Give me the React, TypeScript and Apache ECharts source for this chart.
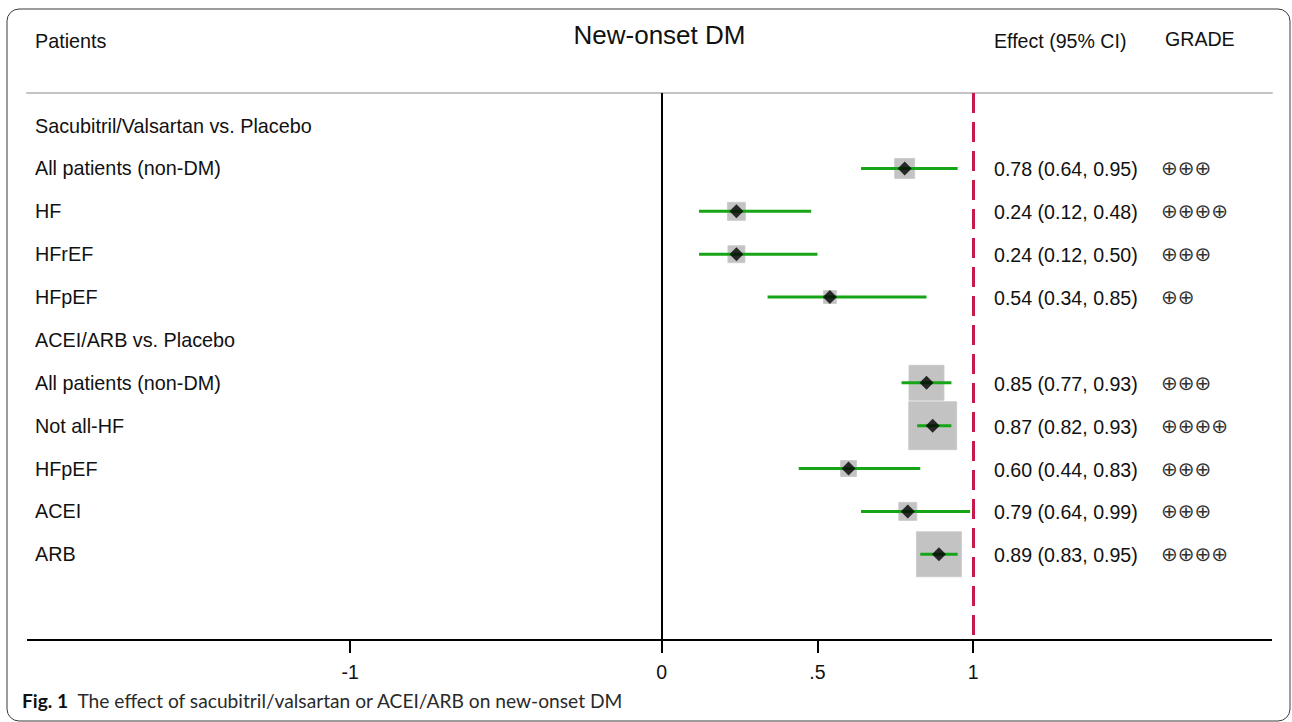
import React, { useEffect, useRef } from "react";
import * as echarts from "echarts";

// ---- data ----
const rowLabels = [
  "Sacubitril/Valsartan vs. Placebo",
  "All patients (non-DM)",
  "HF",
  "HFrEF",
  "HFpEF",
  "ACEI/ARB vs. Placebo",
  "All patients (non-DM)",
  "Not all-HF",
  "HFpEF",
  "ACEI",
  "ARB",
];
const studyRows = [1, 2, 3, 4, 6, 7, 8, 9, 10];
const estimates = [0.78, 0.24, 0.24, 0.54, 0.85, 0.87, 0.6, 0.79, 0.89];
const lowerCI = [0.64, 0.12, 0.12, 0.34, 0.77, 0.82, 0.44, 0.64, 0.83];
const upperCI = [0.95, 0.48, 0.5, 0.85, 0.93, 0.93, 0.83, 0.99, 0.95];
const weights = [20, 18, 17, 13, 35, 48, 16, 18, 45];
const grades = [3, 4, 3, 2, 3, 4, 3, 3, 4];
const xTicks = [-1, 0, 0.5, 1];
const xTickLabels = ["-1", "0", ".5", "1"];

const FONT = "'Liberation Sans', Arial, Helvetica, sans-serif";
const GREEN = "#16a516";
const RED = "#c51a4a";
const Y_MIN = -0.76;
const Y_AXIS = 12; // row position of the x axis line
const Y_MAX = 12.303; // bottom of grid = end of tick marks

export default function App() {
  const ref = useRef<HTMLDivElement>(null);

  useEffect(() => {
    document.body.style.margin = "0";
    if (!ref.current) return;
    const chart = echarts.init(ref.current, undefined, { renderer: "svg" });

    const effectText = estimates.map(
      (e, i) => `${e.toFixed(2)} (${lowerCI[i].toFixed(2)}, ${upperCI[i].toFixed(2)})`
    );
    const gradeText = grades.map((g) => Array(g).fill("\u2295").join(""));

    const tickLines = xTicks.map((t) => [
      { coord: [t, Y_AXIS] },
      { coord: [t, Y_MAX], lineStyle: { color: "#000", type: "solid", width: 2 } },
    ]);

    const option: any = {
      animation: false,
      grid: { left: 27, right: 20, top: 93, bottom: 69, outerBoundsMode: "none" },
      xAxis: [
        {
          type: "value",
          min: -2.037,
          max: 1.959,
          axisLine: { show: false, onZero: false },
          axisTick: { show: false },
          axisLabel: {
            show: true,
            customValues: xTicks,
            margin: 9,
            fontSize: 19.5,
            fontFamily: FONT,
            color: "#111",
            formatter: (v: number) => xTickLabels[xTicks.indexOf(v)] ?? "",
          },
          splitLine: { show: false },
        },
        {
          type: "value",
          position: "top",
          min: -2.037,
          max: 1.959,
          axisLine: { show: true, onZero: false, lineStyle: { color: "#c4c4c4", width: 2 } },
          axisTick: { show: false },
          axisLabel: { show: false },
          splitLine: { show: false },
        },
      ],
      yAxis: {
        type: "value",
        min: Y_MIN,
        max: Y_MAX,
        inverse: true,
        show: false,
        splitLine: { show: false },
      },
      series: [
        {
          type: "scatter",
          silent: true,
          symbol: "rect",
          symbolSize: (v: number[]) => v[2],
          itemStyle: { color: "#b4b4b4", borderColor: "#c8c8c8", borderWidth: 1 },
          data: estimates.map((e, i) => [e, studyRows[i], weights[i]]),
          z: 2,
        },
        {
          type: "custom",
          silent: true,
          renderItem: (params: any, api: any) => {
            const y = api.value(2);
            const p1 = api.coord([api.value(0), y]);
            const p2 = api.coord([api.value(1), y]);
            return {
              type: "line",
              shape: { x1: p1[0], y1: p1[1], x2: p2[0], y2: p2[1] },
              style: { stroke: GREEN, lineWidth: 3 },
            };
          },
          data: lowerCI.map((l, i) => [l, upperCI[i], studyRows[i]]),
          z: 3,
        },
        {
          type: "scatter",
          silent: true,
          symbol: "diamond",
          symbolSize: 14,
          itemStyle: { color: "#000" },
          data: estimates.map((e, i) => [e, studyRows[i]]),
          z: 4,
          markLine: {
            silent: true,
            symbol: ["none", "none"],
            label: { show: false },
            data: [
              [
                { coord: [0, Y_MIN] },
                { coord: [0, Y_AXIS], lineStyle: { color: "#000", type: "solid", width: 2 } },
              ],
              [
                { coord: [1, Y_MIN] },
                { coord: [1, Y_AXIS], lineStyle: { color: RED, type: [20, 9], width: 3 } },
              ],
              { yAxis: Y_AXIS, lineStyle: { color: "#000", type: "solid", width: 2 } },
              ...tickLines,
            ],
          },
        },
        {
          type: "custom",
          silent: true,
          renderItem: (params: any, api: any) => {
            const y = api.coord([0, api.value(1)])[1];
            return {
              type: "text",
              x: 35,
              y,
              style: {
                text: rowLabels[params.dataIndex],
                fontSize: 19.8,
                fontFamily: FONT,
                fill: "#111",
                align: "left",
                verticalAlign: "middle",
              },
            };
          },
          data: rowLabels.map((_, i) => [0, i]),
          z: 5,
        },
        {
          type: "custom",
          silent: true,
          renderItem: (params: any, api: any) => {
            const y = api.coord([0, api.value(1)])[1];
            return {
              type: "group",
              children: [
                {
                  type: "text",
                  x: 994,
                  y: y + 1,
                  style: {
                    text: effectText[params.dataIndex],
                    fontSize: 19.6,
                    fontFamily: FONT,
                    fill: "#111",
                    align: "left",
                    verticalAlign: "middle",
                  },
                },
                {
                  type: "text",
                  x: 1161,
                  y: y,
                  style: {
                    text: gradeText[params.dataIndex],
                    fontSize: 20,
                    fontFamily: "'DejaVu Sans', sans-serif",
                    fill: "#333",
                    align: "left",
                    verticalAlign: "middle",
                  },
                },
              ],
            };
          },
          data: studyRows.map((r) => [0, r]),
          z: 5,
        },
      ],
      graphic: [
        {
          type: "rect",
          shape: { x: 7, y: 9, width: 1283, height: 712, r: 12 },
          style: { fill: "none", stroke: "#3a3a3a", lineWidth: 1 },
          silent: true,
          z: 0,
        },
        {
          type: "text",
          x: 35,
          y: 41,
          style: { text: "Patients", fontSize: 19.8, fontFamily: FONT, fill: "#111", verticalAlign: "middle" },
        },
        {
          type: "text",
          x: 659.5,
          y: 35,
          style: { text: "New-onset DM", fontSize: 26, fontFamily: FONT, fill: "#111", align: "center", verticalAlign: "middle" },
        },
        {
          type: "text",
          x: 994,
          y: 41,
          style: { text: "Effect (95% CI)", fontSize: 19.6, fontFamily: FONT, fill: "#111", verticalAlign: "middle" },
        },
        {
          type: "text",
          x: 1165,
          y: 39,
          style: { text: "GRADE", fontSize: 19.6, fontFamily: FONT, fill: "#111", verticalAlign: "middle" },
        },
        {
          type: "text",
          x: 22,
          y: 700,
          style: {
            text: "{b|Fig. 1}  The effect of sacubitril/valsartan or ACEI/ARB on new-onset DM",
            fontSize: 19.2,
            fontFamily: "Lato, sans-serif",
            fill: "#2a2a2a",
            verticalAlign: "middle",
            rich: {
              b: { fontSize: 19.2, fontFamily: "Lato, sans-serif", fontWeight: "bold", fill: "#111" },
            },
          },
        },
      ],
    };

    chart.setOption(option);
    return () => chart.dispose();
  }, []);

  return <div ref={ref} style={{ width: 1292, height: 722 }} />;
}
